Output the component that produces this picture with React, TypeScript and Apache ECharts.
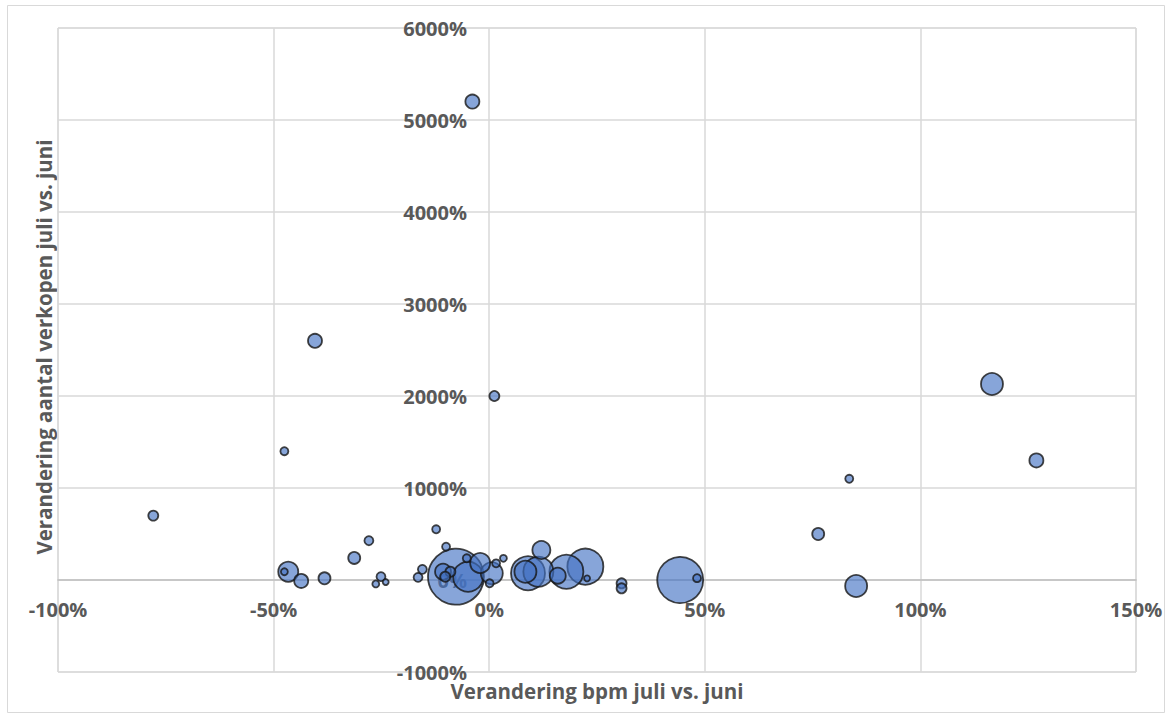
import React, { useEffect, useRef } from "react";
import * as echarts from "echarts";

// Verandering bpm juli vs. juni (%)
const bpmChange = [
  -3.9, -40.4, 1.2, -47.5, -77.9, 116.6, 126.9, 83.5, 76.3, 85.1,
  44.3, 48.2, -46.6, -47.5, -43.6, -38.2, -31.3, -27.9, -25.1, -26.3,
  -24.0, -16.5, -15.5, -12.3, -10.0, -7.7, -10.7, -9.0, -10.2, -4.9,
  -2.1, -5.2, 0.6, 1.6, 3.3, 0.1, 12.1, 9.0, 8.4, 11.4,
  15.9, 17.9, 22.3, 22.7, 30.7, 30.7,
];
// Verandering aantal verkopen juli vs. juni (%)
const salesChange = [
  5200, 2600, 2000, 1400, 700, 2130, 1300, 1100, 500, -65,
  0, 20, 90, 90, -10, 18, 240, 427, 36, -43,
  -22, 29, 116, 551, 362, 36, 90, 90, 36, 36,
  185, 236, 73, 181, 236, -36, 326, 73, 90, 90,
  47, 90, 145, 18, -36, -90,
];
// Bubble size (relative volume)
const bubbleSize = [
  49, 49, 25, 16, 25, 121, 49, 16, 36, 121,
  529, 16, 100, 12, 49, 36, 36, 20, 20, 12,
  9, 20, 20, 16, 16, 784, 64, 25, 25, 225,
  100, 16, 121, 16, 12, 16, 81, 289, 121, 225,
  64, 289, 324, 9, 25, 25,
];

const xTicks = { min: -100, max: 150, interval: 50 };
const yTicks = { min: -1000, max: 6000, interval: 1000 };

const xTitle = "Verandering bpm juli vs. juni";
const yTitle = "Verandering aantal verkopen juli vs. juni";

export default function App() {
  const ref = useRef<HTMLDivElement>(null);
  useEffect(() => {
    document.body.style.margin = "0";
    if (!ref.current) return;
    const chart = echarts.init(ref.current, null, { renderer: "svg" });
    const points = bpmChange
      .map((x, i) => [x, salesChange[i], bubbleSize[i]])
      .sort((a, b) => b[2] - a[2]);
    const labelStyle = {
      color: "#595959",
      fontWeight: "bold" as const,
      fontSize: 20,
      fontFamily: "'Open Sans', sans-serif",
    };
    chart.setOption({
      animation: false,
      backgroundColor: "#ffffff",
      grid: {
        left: 58,
        right: 35,
        top: 28,
        bottom: 46,
        show: true,
        borderColor: "#d9d9d9",
        borderWidth: 1,
        containLabel: false,
        outerBoundsMode: "none",
      },
      xAxis: {
        type: "value",
        position: "bottom",
        offset: -92,
        min: xTicks.min,
        max: xTicks.max,
        interval: xTicks.interval,
        axisLine: { show: true, onZero: false, lineStyle: { color: "#bfbfbf", width: 1.5 } },
        axisTick: { show: false },
        splitLine: { show: true, lineStyle: { color: "#d9d9d9", width: 1.5 } },
        axisLabel: { ...labelStyle, margin: 19, formatter: (v: number) => `${v}%` },
      },
      yAxis: {
        type: "value",
        position: "left",
        offset: -431,
        min: yTicks.min,
        max: yTicks.max,
        interval: yTicks.interval,
        axisLine: { show: false, onZero: false },
        axisTick: { show: false },
        splitLine: { show: true, lineStyle: { color: "#d9d9d9", width: 1.5 } },
        axisLabel: { ...labelStyle, margin: 22, formatter: (v: number) => `${v}%` },
      },
      graphic: [
        {
          type: "rect",
          silent: true,
          shape: { x: 7.5, y: 5.5, width: 1157, height: 707 },
          style: { fill: "none", stroke: "#d9d9d9", lineWidth: 1 },
          z: -10,
        },
        {
          type: "text",
          x: 597,
          y: 691,
          style: {
            text: xTitle,
            fill: "#595959",
            font: "bold 20.5px 'Open Sans', sans-serif",
            align: "center",
            verticalAlign: "middle",
          },
        },
        {
          type: "text",
          x: 44,
          y: 347,
          rotation: Math.PI / 2,
          style: {
            text: yTitle,
            fill: "#595959",
            font: "bold 20.5px 'Open Sans', sans-serif",
            align: "center",
            verticalAlign: "middle",
          },
        },
      ],
      series: [
        {
          type: "scatter",
          data: points,
          symbolSize: (d: number[]) => 2 * Math.sqrt(d[2]),
          itemStyle: {
            color: "rgba(68,114,196,0.8)",
            borderColor: "#151515",
            borderWidth: 1.8,
          },
        },
      ],
    });
    return () => chart.dispose();
  }, []);
  return <div ref={ref} style={{ width: 1171, height: 718 }} />;
}
